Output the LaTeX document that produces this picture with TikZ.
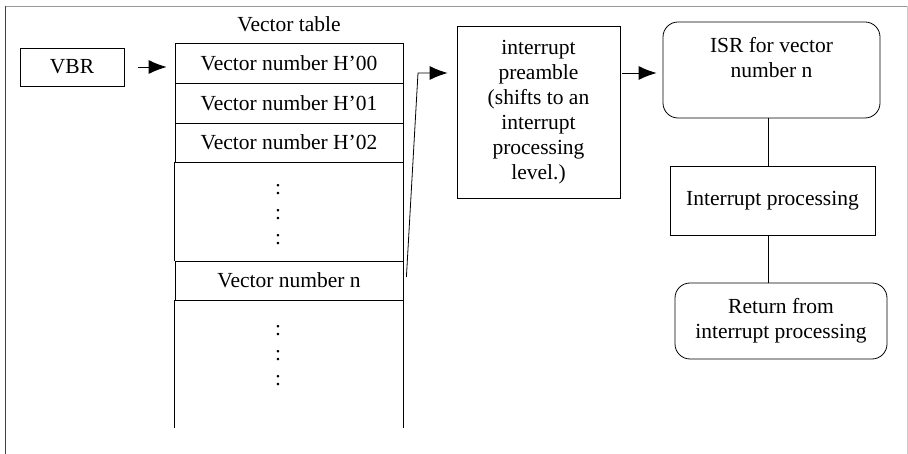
\documentclass[tikz,border=0pt]{standalone}
\usepackage{fontspec}
\setmainfont{Liberation Serif}
\usetikzlibrary{arrows.meta}
\begin{document}
\begin{tikzpicture}[x=1pt, y=-1pt,
        font=\fontsize{21.5pt}{25pt}\selectfont,
        box/.style={draw, line width=0.8pt, inner sep=0pt, align=center},
        cell/.style={box, minimum width=228pt, minimum height=40pt},
        roundbox/.style={box, rounded corners=15pt},
        arr/.style={-{Latex[length=18pt, width=14pt]}, line width=0.8pt}]
        \useasboundingbox (0, 0) rectangle (908, 454);
        % frame
        \draw[black!75, line width=1.6pt] (5.5, 454) -- (5.5, 6);
        \draw[gray!80, line width=0.8pt] (5.5, 6) -- (907, 6);
        \draw[gray!40, line width=0.8pt] (907, 6) -- (907, 454);
        % VBR and vector table
        \node[box, minimum width=104pt, minimum height=38pt] (vbr) at (72, 67) {VBR};
        \node (title) at (289, 24) {Vector table};
        \node[cell] (v00) at (289, 63) {Vector number H’00};
        \node[cell] (v01) at (289, 103) {Vector number H’01};
        \node[cell, minimum height=39pt] (v02) at (289, 142.5) {Vector number H’02};
        \node[cell, minimum height=39pt] (vn) at (289, 280.5) {Vector number n};
        \draw[line width=0.8pt] (v02.south west) -- (vn.north west);
        \draw[line width=0.8pt] (v02.south east) -- (vn.north east);
        \draw[line width=0.8pt] (vn.south west) -- ++(0, 128);
        \draw[line width=0.8pt] (vn.south east) -- ++(0, 128);
        \node[align=center] (dots1) at (278, 215) {:\\:\\:};
        \node[align=center] (dots2) at (278, 356) {:\\:\\:};
        \draw[arr] ([xshift=14pt]vbr.east) -- ([xshift=-8pt]vbr.east -| v00.west);
        % interrupt handling
        \node[box, minimum width=163pt, minimum height=172pt] (pre) at (538.5, 112)
            {interrupt\\preamble\\(shifts to an\\interrupt\\processing\\level.)};
        \node[roundbox, minimum width=217pt, minimum height=96pt] (isr) at (771.5, 70)
            {ISR for vector\\number n\\~};
        \node[box, minimum width=205pt, minimum height=69pt] (proc) at (772.5, 200.5)
            {Interrupt processing};
        \node[roundbox, minimum width=212pt, minimum height=76pt] (ret) at (781, 321)
            {Return from\\interrupt processing};
        \coordinate (bend) at (418, 73);
        \draw[arr] ([shift={(3, -3.5)}]vn.east) -- (bend) -- ([xshift=-9pt]bend -| pre.west);
        \draw[arr] ([xshift=2pt]bend -| pre.east) -- ([xshift=-6pt]bend -| isr.west);
        \draw[line width=0.8pt] ([xshift=-4.5pt]proc.north) -- ([xshift=-4.5pt]proc.north |- isr.south);
        \draw[line width=0.8pt] ([xshift=-4.5pt]proc.south) -- ([xshift=-4.5pt]proc.south |- ret.north);
    \end{tikzpicture}
\end{document}
